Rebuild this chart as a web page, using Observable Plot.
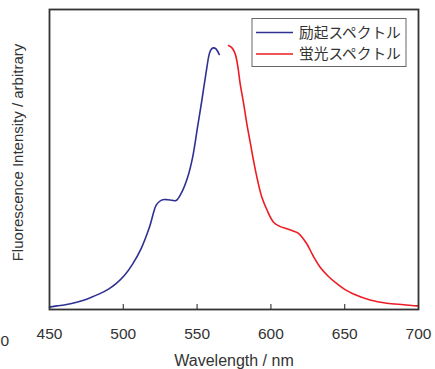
<!DOCTYPE html>
<html><head><meta charset="utf-8">
<script src="https://cdn.jsdelivr.net/npm/d3@7"></script>
<script src="https://cdn.jsdelivr.net/npm/@observablehq/plot@0.6"></script>
<style>body{margin:0;background:#fff}</style>
</head><body><div id="chart"></div>
<script>
// Excitation spectrum (励起スペクトル)
const excitationWl = [450,455,460,465,472.5,478,483.8,490,495.1,500.7,506.4,512,517.7,522.2,524.5,526.7,530,533,535.7,539.1,543.6,547,550.3,553,556,558.3,559.5,561,562.5,564,565];
const excitationI  = [0.8,1.2,1.5,2.0,3.0,4.0,5.2,6.8,8.6,11.3,15.2,20.2,27.4,34.7,36.0,36.6,36.6,36.4,36.3,38.6,44.1,50.8,60.8,69.0,78.7,85.3,86.7,87.2,87.0,86.0,85.0];
// Emission spectrum (蛍光スペクトル)
const emissionWl = [571.3,573.5,575.8,577.5,579.2,581.5,583.7,586,588.2,591,593.9,597.5,601.8,606,610.8,615,618.7,624.3,628.5,633.4,639,644.7,650,655.9,667.2,678.5,690,698.8,700];
const emissionI  = [88.0,87.3,85.2,81.3,75.2,68.7,61.9,55.7,49.7,43.0,37.4,33.0,29.1,27.7,26.9,26.2,25.4,21.9,18.0,14.1,11.0,8.6,6.7,5.2,3.2,2.1,1.6,1.2,1.2];

const xTickLabels = [450,500,550,600,650,700];
const xInnerTicks = [500,550,600,650];
const seriesNames = ["励起スペクトル","蛍光スペクトル"];
const seriesColors = ["#2e3192","#ed1c24"];
const xLabel = "Wavelength / nm";
const yLabel = "Fluorescence Intensity / arbitrary";

const excitation = excitationWl.map((w,i)=>({wl:w, v:excitationI[i]}));
const emission = emissionWl.map((w,i)=>({wl:w, v:emissionI[i]}));

const font = "'Liberation Sans', Arial, sans-serif";
const plot = Plot.plot({
  width: 435, height: 369,
  marginLeft: 49, marginRight: 17, marginTop: 9, marginBottom: 60,
  style: {fontFamily: font, color: "#333", background: "#fff"},
  x: {domain: [450,700]},
  y: {domain: [0,100], axis: null},
  marks: [
    Plot.line(excitation, {x:"wl", y:"v", stroke: seriesColors[0], strokeWidth: 1.6, curve: "catmull-rom"}),
    Plot.line(emission, {x:"wl", y:"v", stroke: seriesColors[1], strokeWidth: 1.6, curve: "catmull-rom"}),
    Plot.axisX(xTickLabels, {tickSize: 0, tickPadding: 18, fontSize: 15.5, label: null, fill: "#333"}),
    Plot.tickX(xInnerTicks, {x: d => d, insetTop: 295, stroke: "#444", strokeWidth: 1.2}),
    Plot.frame({stroke: "#333", strokeWidth: 1.8}),
    Plot.text([xLabel], {frameAnchor: "bottom", dy: 51, fontSize: 16, fill: "#333", lineAnchor: "middle"}),
    Plot.text([yLabel], {frameAnchor: "left", dx: -31, dy: -7, rotate: -90, fontSize: 15, fill: "#333", lineAnchor: "middle", textAnchor: "middle"})
  ]
});
document.getElementById("chart").appendChild(plot);

// Legend box and stray "0" label (layout elements)
const svg = d3.select(plot);
const lg = svg.append("g").attr("text-anchor", "start");
lg.append("rect").attr("x", 252).attr("y", 18.5).attr("width", 154).attr("height", 48)
  .attr("fill", "#fff").attr("stroke", "#666").attr("stroke-width", 1);
seriesNames.forEach((name, i) => {
  const cy = 32.5 + i * 21.5;
  lg.append("line").attr("x1", 256).attr("x2", 293).attr("y1", cy).attr("y2", cy)
    .attr("stroke", seriesColors[i]).attr("stroke-width", 1.4);
  lg.append("text").attr("x", 299).attr("y", cy).attr("dy", "0.36em")
    .attr("text-anchor", "start")
    .attr("font-family", "'Noto Sans CJK JP', sans-serif").attr("font-size", 14.7)
    .attr("fill", "#333").text(name);
});
svg.append("text").attr("x", 9).attr("y", 346).attr("text-anchor", "end")
  .attr("font-family", font).attr("font-size", 15.5).attr("fill", "#333").text("0");
</script>
</body></html>
